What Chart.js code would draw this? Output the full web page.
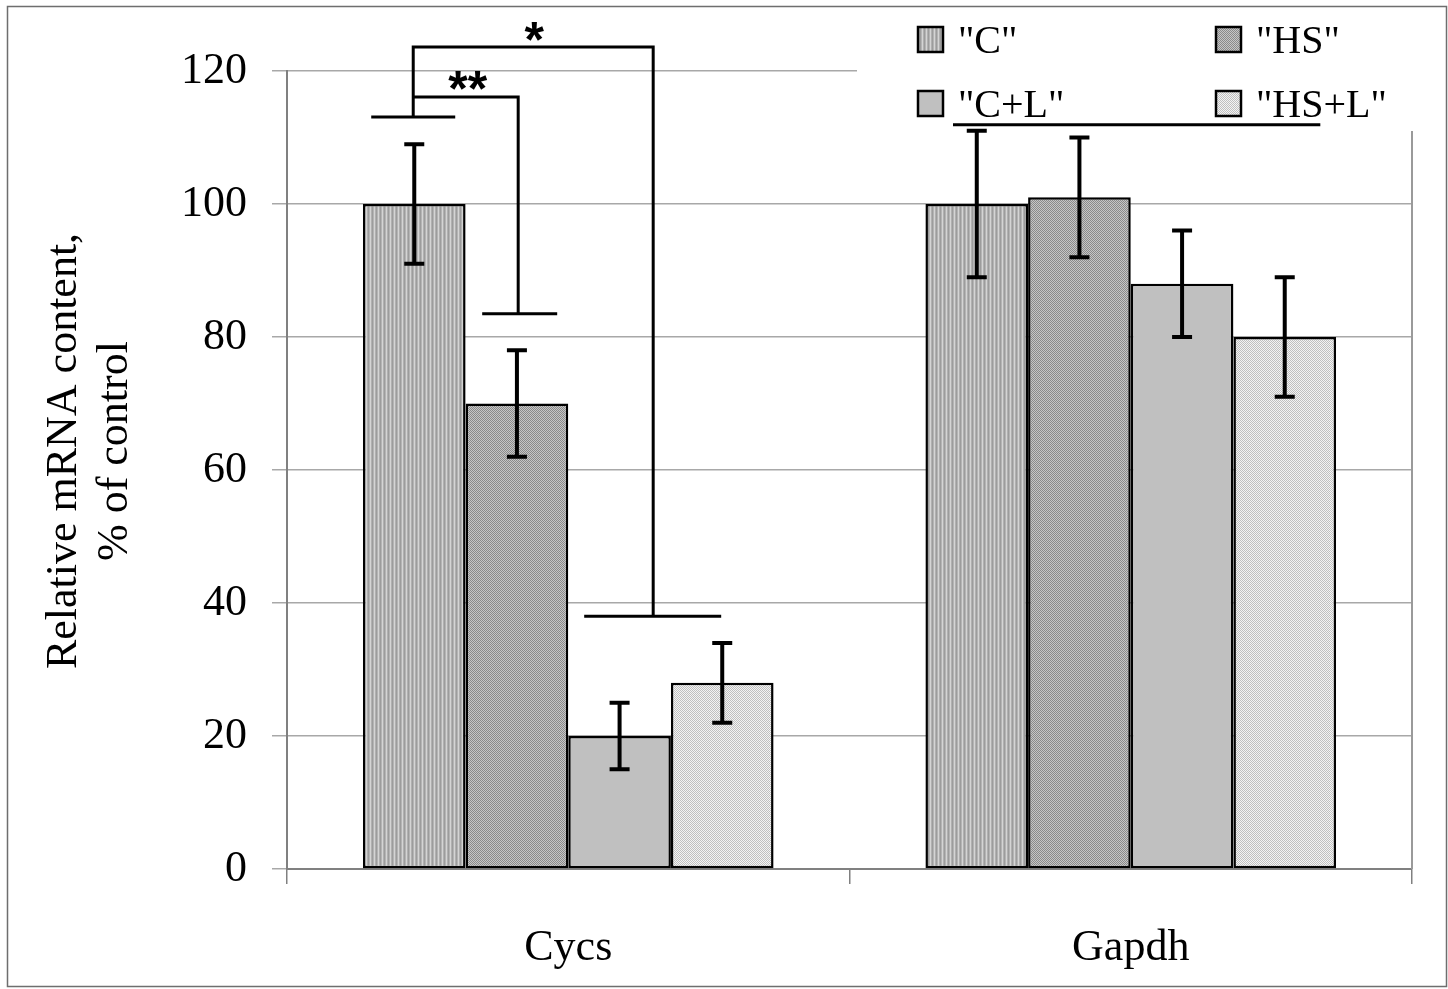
<!DOCTYPE html>
<html>
<head>
<meta charset="utf-8">
<script src="https://cdn.jsdelivr.net/npm/chart.js@4.4.1/dist/chart.umd.min.js"></script>
<style>
  html, body { margin: 0; padding: 0; background: #ffffff; }
  #wrap { width: 1448px; height: 989px; }
</style>
</head>
<body>
<div id="wrap"><canvas id="c" width="1448" height="989"></canvas></div>
<script>
// ---- data ----
const categories = ['Cycs', 'Gapdh'];
const seriesLabels = ['"C"', '"HS"', '"C+L"', '"HS+L"'];
const valuesC   = [100, 100];
const valuesHS  = [70, 101];
const valuesCL  = [20, 88];
const valuesHSL = [28, 80];
const errC   = [9, 11];
const errHS  = [8, 9];
const errCL  = [5, 8];
const errHSL = [6, 9];
const yMin = 0, yMax = 120, yStep = 20;
const yTitleLines = ['Relative mRNA content,', '% of control'];
// significance brackets (x in category-index units, y in data units)
const starLabels = ['*', '**'];
const bigBracketX = [-0.2756, 0.151];
const bigBracketY = 123.6;
const bigBracketLegBottom = [113.1, 38.0];
const smallBracketX = [-0.2756, -0.089];
const smallBracketY = 116.1;
const smallBracketLegBottom = [113.1, 83.5];
const gapdhLineX = [0.684, 1.337];
const gapdhLineY = 111.9;

// ---- patterns ----
function makePattern(w, h, draw) {
  const c = document.createElement('canvas');
  c.width = w; c.height = h;
  const g = c.getContext('2d');
  draw(g);
  return document.getElementById('c').getContext('2d').createPattern(c, 'repeat');
}
const patC = makePattern(4, 4, g => {
  const cols = ['#9c9c9c', '#b4b4b4', '#d4d4d4', '#b0b0b0'];
  cols.forEach((col, i) => { g.fillStyle = col; g.fillRect(i, 0, 1, 4); });
});
const patHS = makePattern(2, 2, g => {
  g.fillStyle = '#c6c6c6'; g.fillRect(0, 0, 2, 2);
  g.fillStyle = '#8a8a8a'; g.fillRect(0, 0, 1, 1); g.fillRect(1, 1, 1, 1);
});
const patHSL = makePattern(2, 2, g => {
  g.fillStyle = '#f4f4f4'; g.fillRect(0, 0, 2, 2);
  g.fillStyle = '#c0c0c0'; g.fillRect(0, 0, 1, 1); g.fillRect(1, 1, 1, 1);
});
const fills = [patC, patHS, '#c0c0c0', patHSL];
const errs = [errC, errHS, errCL, errHSL];

const serif = '"Liberation Serif", "Times New Roman", serif';

const decorPlugin = {
  id: 'decor',
  beforeDraw(chart) {
    const ctx = chart.ctx;
    ctx.save();
    ctx.fillStyle = '#fff';
    ctx.fillRect(0, 0, chart.width, chart.height);
    ctx.strokeStyle = '#6e6e6e';
    ctx.lineWidth = 1.5;
    ctx.strokeRect(7.5, 6.5, 1439, 980);
    ctx.restore();
  },
  beforeDatasetsDraw(chart) {
    const ctx = chart.ctx, a = chart.chartArea;
    ctx.save();
    // right plot border
    ctx.strokeStyle = '#9a9a9a';
    ctx.lineWidth = 2;
    ctx.beginPath();
    ctx.moveTo(a.right, a.top);
    ctx.lineTo(a.right, a.bottom);
    ctx.stroke();
    // legend background covering top-right of plot
    ctx.fillStyle = '#fff';
    ctx.fillRect(857, 12, 1440 - 857, 131 - 12);
    // y title
    ctx.fillStyle = '#000';
    ctx.font = '44px ' + serif;
    ctx.textAlign = 'center';
    ctx.textBaseline = 'middle';
    ctx.translate(64, 451);
    ctx.rotate(-Math.PI / 2);
    yTitleLines.forEach((t, i) => ctx.fillText(t, 0, i * 51));
    ctx.restore();
  },
  afterDatasetsDraw(chart) {
    const ctx = chart.ctx;
    const ys = chart.scales.y, xs = chart.scales.x;
    ctx.save();
    ctx.strokeStyle = '#000';
    ctx.lineCap = 'butt';
    // error bars
    ctx.lineWidth = 4;
    chart.data.datasets.forEach((ds, di) => {
      const meta = chart.getDatasetMeta(di);
      meta.data.forEach((el, i) => {
        const v = ds.data[i], e = errs[di][i];
        const yt = ys.getPixelForValue(v + e), yb = ys.getPixelForValue(v - e);
        ctx.beginPath();
        ctx.moveTo(el.x, yt); ctx.lineTo(el.x, yb);
        ctx.moveTo(el.x - 10, yt); ctx.lineTo(el.x + 10, yt);
        ctx.moveTo(el.x - 10, yb); ctx.lineTo(el.x + 10, yb);
        ctx.stroke();
      });
    });
    // brackets
    ctx.lineWidth = 3;
    const X = v => xs.getPixelForValue(v), Y = v => ys.getPixelForValue(v);
    ctx.beginPath();
    // big bracket "*"
    ctx.moveTo(X(bigBracketX[0]), Y(bigBracketLegBottom[0]));
    ctx.lineTo(X(bigBracketX[0]), Y(bigBracketY));
    ctx.lineTo(X(bigBracketX[1]), Y(bigBracketY));
    ctx.lineTo(X(bigBracketX[1]), Y(bigBracketLegBottom[1]));
    // small bracket "**"
    ctx.moveTo(X(smallBracketX[0]), Y(smallBracketY));
    ctx.lineTo(X(smallBracketX[1]), Y(smallBracketY));
    ctx.lineTo(X(smallBracketX[1]), Y(smallBracketLegBottom[1]));
    // caps
    ctx.moveTo(X(bigBracketX[0]) - 42, Y(bigBracketLegBottom[0]));
    ctx.lineTo(X(bigBracketX[0]) + 42, Y(bigBracketLegBottom[0]));
    ctx.moveTo(X(bigBracketX[1]) - 69, Y(bigBracketLegBottom[1]));
    ctx.lineTo(X(bigBracketX[1]) + 68, Y(bigBracketLegBottom[1]));
    ctx.moveTo(X(smallBracketX[1]) - 36, Y(smallBracketLegBottom[1]));
    ctx.lineTo(X(smallBracketX[1]) + 39, Y(smallBracketLegBottom[1]));
    // gapdh line
    ctx.moveTo(X(gapdhLineX[0]), Y(gapdhLineY));
    ctx.lineTo(X(gapdhLineX[1]), Y(gapdhLineY));
    ctx.stroke();
    // stars
    ctx.fillStyle = '#000';
    ctx.font = 'bold 50px "Liberation Sans", Arial, sans-serif';
    ctx.textAlign = 'center';
    ctx.textBaseline = 'alphabetic';
    ctx.fillText(starLabels[0], (X(bigBracketX[0]) + X(bigBracketX[1])) / 2 + 1, Y(bigBracketY) + 10);
    ctx.fillText(starLabels[1], (X(smallBracketX[0]) + X(smallBracketX[1])) / 2 + 2, Y(smallBracketY) + 9);
    // legend
    const pos = [[918, 27], [1216, 27], [918, 91], [1216, 91]];
    ctx.font = '40px ' + serif;
    ctx.textAlign = 'left';
    chart.data.datasets.forEach((ds, di) => {
      const [lx, ly] = pos[di];
      ctx.fillStyle = ds.backgroundColor;
      ctx.fillRect(lx, ly, 25, 25);
      ctx.lineWidth = 2.5;
      ctx.strokeStyle = '#000';
      ctx.strokeRect(lx, ly, 25, 25);
      ctx.fillStyle = '#000';
      ctx.fillText(ds.label, lx + 40, ly + 26);
    });
    ctx.restore();
  }
};

const datasets = [valuesC, valuesHS, valuesCL, valuesHSL].map((vals, i) => ({
  label: seriesLabels[i],
  data: vals,
  backgroundColor: fills[i],
  borderColor: '#000',
  borderWidth: 2.5,
  borderSkipped: false,
  categoryPercentage: 0.73,
  barPercentage: 1.0
}));

new Chart(document.getElementById('c'), {
  type: 'bar',
  data: { labels: categories, datasets },
  options: {
    responsive: false,
    animation: false,
    events: [],
    layout: { padding: { top: 71, right: 36, left: 0, bottom: 0 } },
    plugins: { legend: { display: false }, tooltip: { enabled: false } },
    scales: {
      x: {
        afterFit(s) { s.height = 120; },
        grid: { drawOnChartArea: false, drawTicks: true, tickLength: 15, color: '#808080', lineWidth: 1.5, offset: true },
        border: { display: true, color: '#808080', width: 2 },
        ticks: { color: '#000', font: { family: serif, size: 44 }, padding: 38 }
      },
      y: {
        min: yMin, max: yMax,
        afterFit(s) { s.width = 287; },
        grid: { color: '#a8a8a8', lineWidth: 1.5, tickLength: 15, drawTicks: true },
        border: { display: true, color: '#808080', width: 2 },
        ticks: { stepSize: yStep, color: '#000', font: { family: serif, size: 44 }, padding: 25 }
      }
    }
  },
  plugins: [decorPlugin]
});
</script>
</body>
</html>
